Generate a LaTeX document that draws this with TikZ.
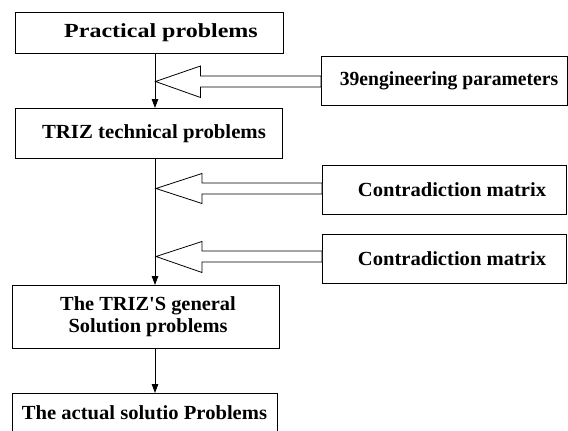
\documentclass[tikz,border=0pt]{standalone}
\usepackage{fontspec}
\setmainfont{Liberation Serif}
\usetikzlibrary{arrows.meta,calc}
\newcommand{\sx}[2]{\scalebox{#1}[1]{#2}}
\begin{document}
\begin{tikzpicture}[x=1pt,y=1pt,
  box/.style={draw,line width=0.9pt,inner sep=0pt},
  lbl/.style={font=\bfseries\fontsize{20}{22}\selectfont,inner sep=0pt,align=center},
  flow/.style={line width=0.9pt,-{Triangle[width=6.5pt,length=9pt]}},
  hollow/.style={draw,line width=0.8pt,fill=white}]
\useasboundingbox (0,0) rectangle (568,-431);
\begin{scope}
\clip (0,0) rectangle (568,-431);
% boxes
\node[box,minimum width=268,minimum height=41,anchor=north west] (b1) at (15,-12) {};
\node[lbl] (t1) at (161,-32.5) {\sx{1.2}{Practical problems}};
\node[box,minimum width=267,minimum height=50,anchor=north west] (b2) at (15,-108) {};
\node[lbl] (t2) at (154,-133.5) {\sx{1.04}{TRIZ technical problems}};
\node[box,minimum width=246,minimum height=49,anchor=north west] (p39) at (321,-56) {};
\node[lbl] (t39) at (449,-80.5) {\sx{0.98}{39engineering parameters}};
\node[box,minimum width=244,minimum height=49,anchor=north west] (cm1) at (322,-165) {};
\node[lbl] (tc1) at (452,-189.5) {\sx{1.03}{Contradiction matrix}};
\node[box,minimum width=244,minimum height=49,anchor=north west] (cm2) at (322,-234) {};
\node[lbl] (tc2) at (452,-258.5) {\sx{1.03}{Contradiction matrix}};
\node[box,minimum width=267,minimum height=63,anchor=north west] (b3) at (12,-285) {};
\node[lbl] (t3) at (148,-317) {\sx{1.02}{The TRIZ\textquotesingle S general}\\\sx{1.02}{Solution problems}};
\node[box,minimum width=265,minimum height=50,anchor=north west] (b4) at (12,-393) {};
\node[lbl] (t4) at (144.5,-413) {\sx{1.03}{The actual solutio Problems}};
% flow connectors
\coordinate (s1) at (155,-53);
\coordinate (e1) at (155,-108);
\coordinate (s2) at (155,-158);
\coordinate (e2) at (155,-285);
\coordinate (s3) at (155,-348);
\coordinate (e3) at (155,-393);
\draw[flow] (s1) -- (e1);
\draw[flow] (s2) -- (e2);
\draw[flow] (s3) -- (e3);
% hollow arrows
\coordinate (a1) at (155.5,-81.5);
\coordinate (a2) at (156,-188.5);
\coordinate (a3) at (156,-256.5);
\draw[hollow] (a1) -- ++(45,15.5) -- ++(0,-10) -- (p39.west |- 0,-76) -- (p39.west |- 0,-87) -- (200.5,-87) -- ++(0,-10.5) -- cycle;
\draw[hollow] (a2) -- ++(46,15) -- ++(0,-9.5) -- (cm1.west |- 0,-183) -- (cm1.west |- 0,-194) -- (202,-194) -- ++(0,-9.5) -- cycle;
\draw[hollow] (a3) -- ++(46,15) -- ++(0,-9.5) -- (cm2.west |- 0,-251) -- (cm2.west |- 0,-262) -- (202,-262) -- ++(0,-10.5) -- cycle;
\end{scope}
\end{tikzpicture}
\end{document}
